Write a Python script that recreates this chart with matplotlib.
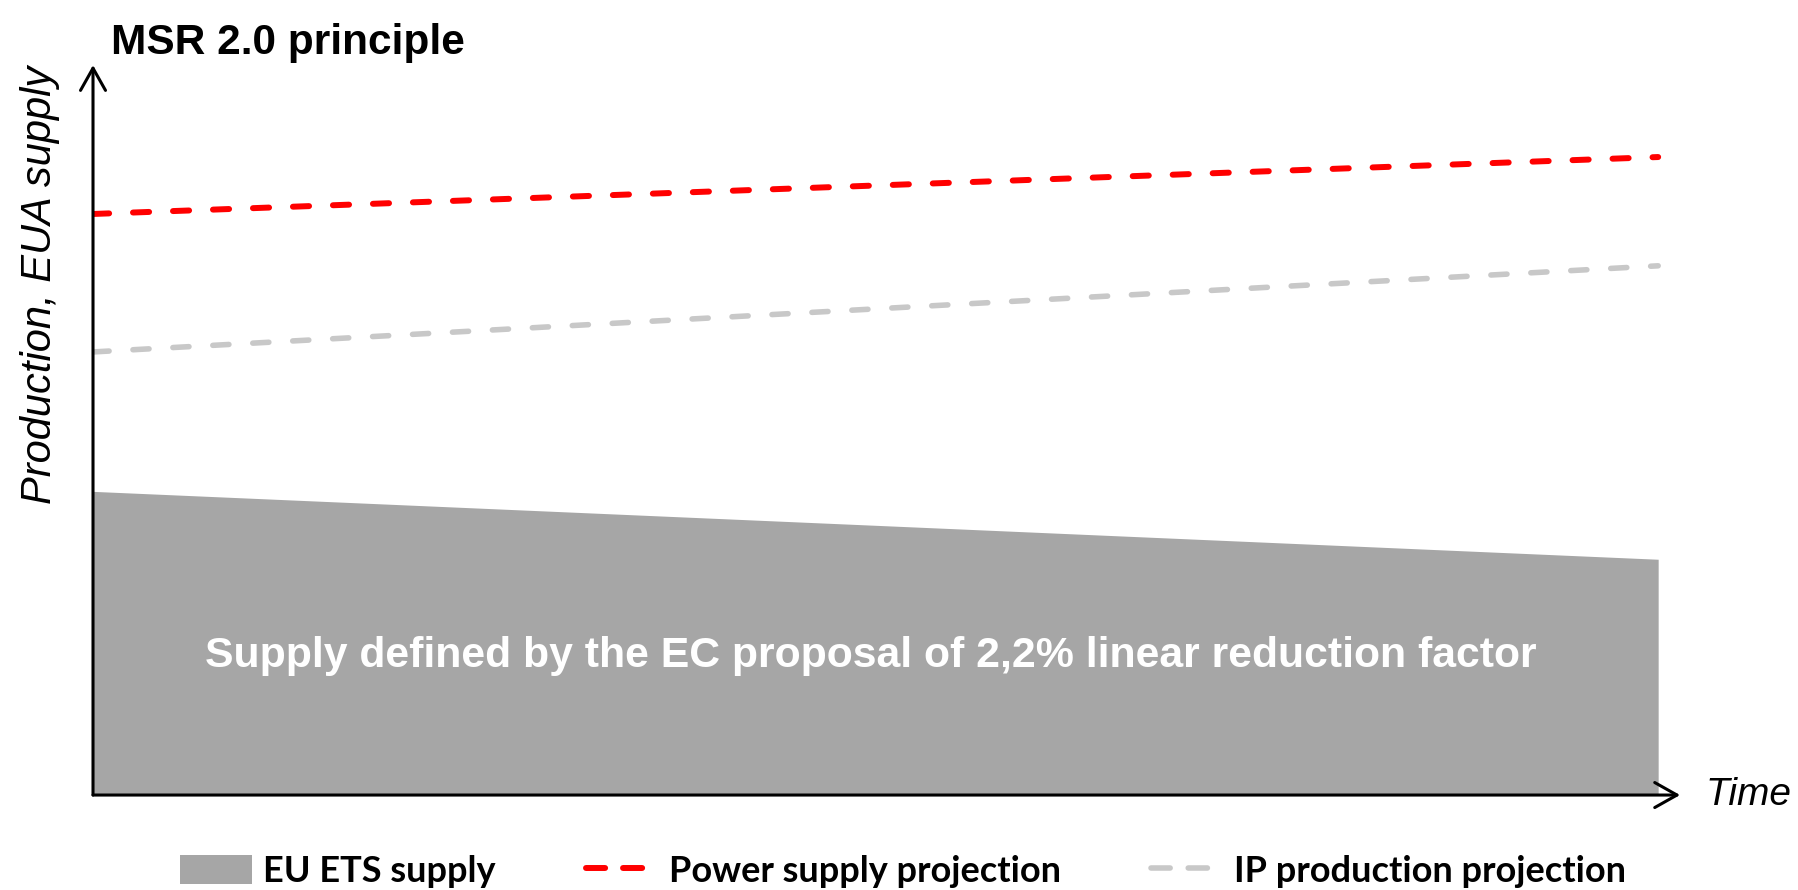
import matplotlib
matplotlib.use("Agg")

import matplotlib.pyplot as plt
from matplotlib.patches import Patch
from matplotlib.lines import Line2D

# -----------------------------
# Data (schematic, arbitrary units)
# -----------------------------

time = [0, 10]
ets_supply = [41.6, 32.3]
power_projection = [79.6, 87.4]
ip_projection = [60.7, 72.5]

series_labels = ["EU ETS supply", "Power supply projection", "IP production projection"]

FILL_GREY = "#a6a6a6"
LINE_RED = "#ff0000"
LINE_GREY = "#c8c8c8"

plt.rcParams["font.family"] = ["Liberation Sans", "DejaVu Sans"]

fig = plt.figure(figsize=(17.99, 8.90), dpi=100)
ax = fig.add_axes([0.0517, 0.1067, 0.8822, 0.8202])

# -----------------------------
# Supply area and projections
# -----------------------------

ax.fill_between(time, ets_supply, 0, color=FILL_GREY, linewidth=0, zorder=1)

ax.plot(time, power_projection, color=LINE_RED, linewidth=4.3,
        dashes=(2.7, 4.0), dash_capstyle="round", zorder=3)
ax.plot(time, ip_projection, color=LINE_GREY, linewidth=4.0,
        dashes=(2.9, 4.3), dash_capstyle="round", zorder=3)

ax.text(0.49, 0.19,
        "Supply defined by the EC proposal of 2,2% linear reduction factor",
        transform=ax.transAxes, ha="center", va="center",
        color="white", fontsize=30.8, fontweight="bold", zorder=4)

ax.set_xlim(0, time[-1] * 1.014)
ax.set_ylim(0, 100)
ax.set_xticks([])
ax.set_yticks([])
for side in ax.spines.values():
    side.set_visible(False)

# -----------------------------
# Axis arrows
# -----------------------------

arrow = dict(arrowstyle="->,head_length=0.8,head_width=0.45",
             color="black", linewidth=2.2, mutation_scale=20,
             shrinkA=0, shrinkB=0)
ax.annotate("", xy=(0, 1), xytext=(0, 0), xycoords="axes fraction",
            textcoords="axes fraction", arrowprops=arrow, zorder=5)
ax.annotate("", xy=(1, 0), xytext=(0, 0), xycoords="axes fraction",
            textcoords="axes fraction", arrowprops=arrow, zorder=5)

# -----------------------------
# Labels
# -----------------------------

fig.text(0.0617, 0.939, "MSR 2.0 principle", fontsize=30.5,
         fontweight="bold", ha="left", va="baseline")
fig.text(0.0222, 0.68, "Production, EUA supply", fontsize=30,
         style="italic", rotation=90, ha="center", va="center")
fig.text(0.948, 0.1067, "Time", fontsize=28, style="italic",
         ha="left", va="center")

# -----------------------------
# Legend
# -----------------------------

handles = [
    Patch(facecolor=FILL_GREY, edgecolor="none"),
    Line2D([], [], color=LINE_RED, linewidth=4.3, dashes=(3.2, 3.0),
           dash_capstyle="round"),
    Line2D([], [], color=LINE_GREY, linewidth=4.0, dashes=(3.45, 3.25),
           dash_capstyle="round"),
]
fig.legend(handles, series_labels, loc="center", ncol=3,
           bbox_to_anchor=(0.502, 0.021), frameon=False,
           prop={"family": "Lato", "weight": "bold", "size": 26},
           handlelength=2.0, handleheight=0.85, handletextpad=0.3,
           columnspacing=2.5, borderpad=0)

fig.savefig("out.png", dpi=100)
plt.close("all")
